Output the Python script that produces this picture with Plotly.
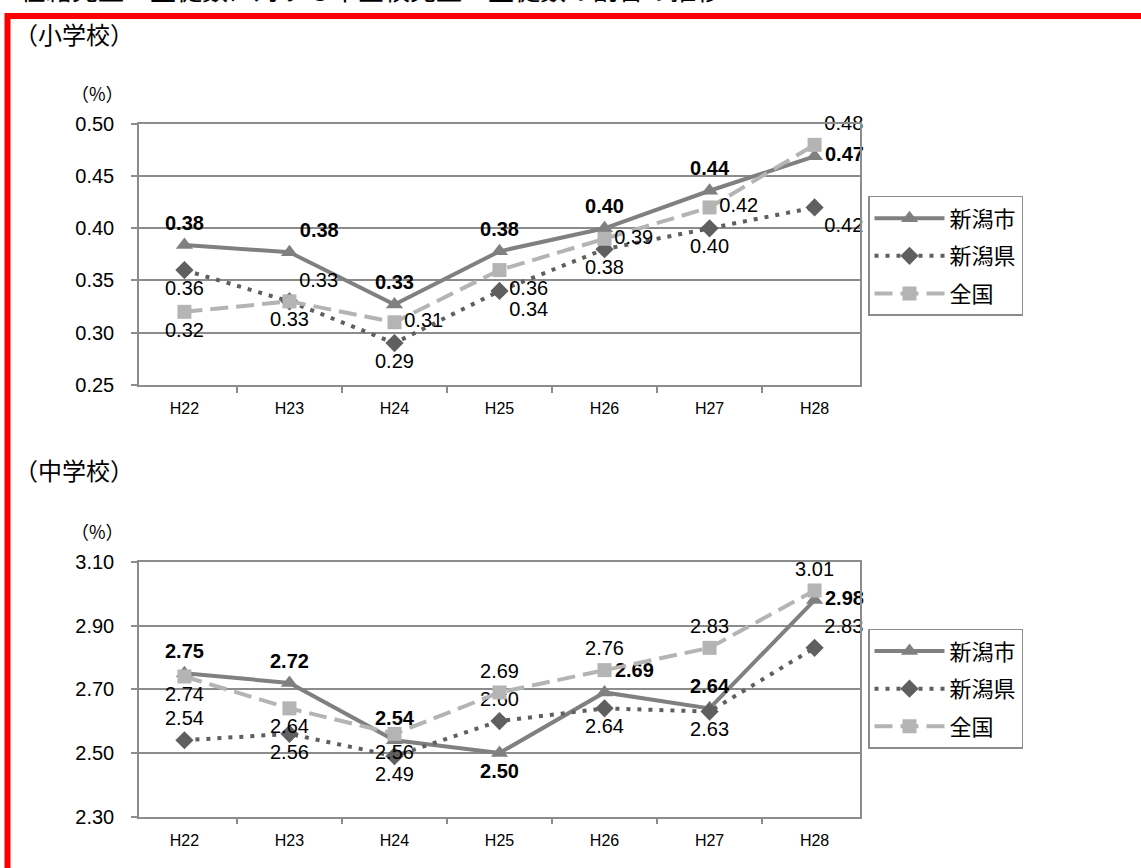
import plotly.graph_objects as go

categories = ["H22", "H23", "H24", "H25", "H26", "H27", "H28"]
series_names = ["新潟市", "新潟県", "全国"]

# 小学校 (%)
elem_city = [0.384, 0.377, 0.327, 0.378, 0.400, 0.436, 0.469]
elem_pref = [0.36, 0.33, 0.29, 0.34, 0.38, 0.40, 0.42]
elem_nation = [0.32, 0.33, 0.31, 0.36, 0.39, 0.42, 0.48]

# 中学校 (%)
jr_city = [2.75, 2.72, 2.54, 2.50, 2.69, 2.64, 2.98]
jr_pref = [2.54, 2.56, 2.49, 2.60, 2.64, 2.63, 2.83]
jr_nation = [2.74, 2.64, 2.56, 2.69, 2.76, 2.83, 3.01]

elem_ticks = [0.25, 0.30, 0.35, 0.40, 0.45, 0.50]
jr_ticks = [2.30, 2.50, 2.70, 2.90, 3.10]

W, H = 1141, 868
NUM_FONT = "Liberation Sans, Arial, Noto Sans CJK JP"
JP_FONT = "Noto Sans CJK JP, Noto Sans CJK SC"

C_CITY = "#808080"
C_PREF = "#5f5f5f"
C_NATION = "#b4b4b4"
GRID = "#8c8c8c"


def py(t):
    """paper fraction for a desired on-screen vertical pixel"""
    c = (t - 10) / 0.975
    return 1 - c / H


# label positions (Excel-like)
elem_pos = {
    "city": ["top center", "top right", "top center", "top center", "top center", "top center", "middle right"],
    "pref": ["bottom center", "bottom center", "bottom center", "bottom right", "bottom center", "bottom center", "bottom right"],
    "nation": ["bottom center", "top right", "middle right", "bottom right", "middle right", "middle right", "top right"],
}
jr_pos = {
    "city": ["top center", "top center", "top center", "bottom center", "top right", "top center", "middle right"],
    "pref": ["top center", "bottom center", "bottom center", "top center", "bottom center", "bottom center", "top right"],
    "nation": ["bottom center", "bottom center", "bottom center", "top center", "top center", "top center", "top center"],
}

fig = go.Figure()


def add_series(vals_list, pos, xa, ya, legend):
    styles = [
        dict(color=C_CITY, dash="solid", symbol="triangle-up", size=15, bold=True),
        dict(color=C_PREF, dash="4px,7px", symbol="diamond", size=14, bold=False),
        dict(color=C_NATION, dash="18px,8px", symbol="square", size=14, bold=False),
    ]
    keys = ["city", "pref", "nation"]
    for name, vals, st, k in zip(series_names, vals_list, styles, keys):
        fig.add_trace(go.Scatter(
            x=categories, y=vals, name=name,
            mode="lines+markers+text",
            line=dict(color=st["color"], width=4, dash=st["dash"]),
            marker=dict(color=st["color"], symbol=st["symbol"], size=st["size"]),
            texttemplate=("<b>%{y:.2f}</b>" if st["bold"] else "%{y:.2f}"),
            textposition=pos[k],
            textfont=dict(family=NUM_FONT, size=20, color="#000000"),
            xaxis=xa, yaxis=ya, legend=legend, legendgroup=legend + k,
            cliponaxis=False,
        ))


add_series([elem_city, elem_pref, elem_nation], elem_pos, "x", "y", "legend")
add_series([jr_city, jr_pref, jr_nation], jr_pos, "x2", "y2", "legend2")

xdom = [139 / W, 860 / W]
top_dom = [py(384), py(123)]
bot_dom = [py(816), py(561)]

axis_common = dict(showline=True, linecolor=GRID, linewidth=1.5, mirror=True,
                   ticks="outside", ticklen=6, tickcolor=GRID, tickwidth=1.5)

xcommon = dict(type="category", tickson="boundaries", showgrid=False, ticklabelstandoff=8,
               tickfont=dict(family=NUM_FONT, size=16, color="#000"), **axis_common)

ycommon = dict(tickformat=".2f", showgrid=True, gridcolor=GRID, gridwidth=1.5,
               ticklabelstandoff=13,
               tickfont=dict(family=NUM_FONT, size=20, color="#000"), **axis_common)

legend_common = dict(xanchor="left", yanchor="top",
                     bordercolor=GRID, borderwidth=1.5, bgcolor="white",
                     font=dict(family=JP_FONT, size=22, color="#000"),
                     itemwidth=70, tracegroupgap=6)

fig.update_layout(
    width=W, height=H, autosize=False,
    margin=dict(l=0, r=0, t=0, b=0),
    paper_bgcolor="white", plot_bgcolor="white",
    showlegend=True,
    xaxis=dict(domain=xdom, anchor="y", **xcommon),
    xaxis2=dict(domain=xdom, anchor="y2", **xcommon),
    yaxis=dict(domain=top_dom, anchor="x", range=[0.25, 0.50], tickvals=elem_ticks, **ycommon),
    yaxis2=dict(domain=bot_dom, anchor="x2", range=[2.30, 3.10], tickvals=jr_ticks, **ycommon),
    legend=dict(x=868 / W, y=py(195), **legend_common),
    legend2=dict(x=868 / W, y=py(628), **legend_common),
)

annots = [
    dict(text="在籍児童・生徒数に対する不登校児童・生徒数の割合の推移", x=18 / W, y=1 + 2 / H,
         xanchor="left", yanchor="bottom", font=dict(family=JP_FONT, size=26, color="#000")),
    dict(text="（小学校）", x=12 / W, y=py(33), xanchor="left", yanchor="middle",
         font=dict(family=JP_FONT, size=24, color="#000")),
    dict(text="（中学校）", x=12 / W, y=py(469), xanchor="left", yanchor="middle",
         font=dict(family=JP_FONT, size=24, color="#000")),
    dict(text="（%）", x=97 / W, y=py(92), xanchor="center", yanchor="middle",
         font=dict(family=JP_FONT, size=18, color="#000")),
    dict(text="（%）", x=97 / W, y=py(530), xanchor="center", yanchor="middle",
         font=dict(family=JP_FONT, size=18, color="#000")),
]
for a in annots:
    fig.add_annotation(xref="paper", yref="paper", showarrow=False, **a)

# red frame
fig.add_shape(type="rect", xref="paper", yref="paper",
              x0=7.5 / W, x1=1.02, y0=-0.02, y1=py(15),
              line=dict(color="#ff0000", width=6), fillcolor="rgba(0,0,0,0)", layer="above")

post = ("document.body.style.margin='0';document.body.style.padding='0';"
        "document.body.style.overflow='hidden';"
        "var d=document.getElementById('{plot_id}');d.style.position='absolute';"
        "d.style.left='0px';d.style.top='0px';")

fig.write_html("out.html", post_script=post, config={"displayModeBar": False})
